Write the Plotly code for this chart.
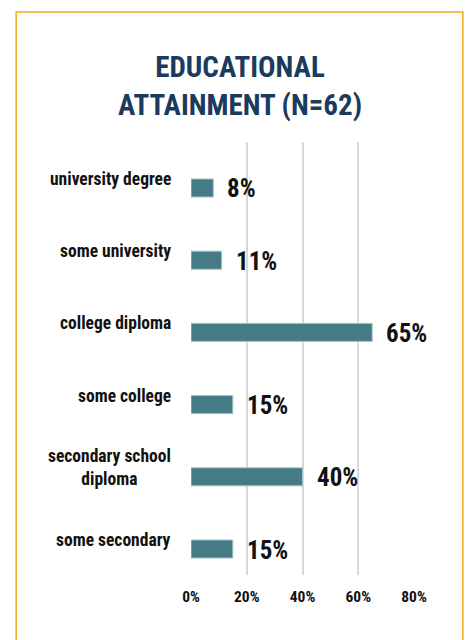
import plotly.graph_objects as go

categories = ["university degree", "some university", "college diploma",
              "some college", "secondary school<br>diploma", "some secondary"]
values = [8, 11, 65, 15, 40, 15]
value_labels = ["8%", "11%", "65%", "15%", "40%", "15%"]
tick_vals = [0, 20, 40, 60, 80]
tick_text = ["0%", "20%", "40%", "60%", "80%"]
title_text = "EDUCATIONAL<br>ATTAINMENT (N=62)"

FONT = "Roboto Condensed, Liberation Sans Narrow, Arial Narrow, sans-serif"
BAR = "#457B85"
TXT = "#111111"

fig = go.Figure()
fig.add_trace(go.Bar(
    x=values, y=categories, orientation="h",
    marker=dict(color=BAR, line=dict(color="#A9C3C7", width=1)),
    hoverinfo="skip",
))

for c, v, t in zip(categories, values, value_labels):
    fig.add_annotation(x=v, y=c, xref="x", yref="y", text=f"<b>{t}</b>",
                       showarrow=False, xanchor="left", yanchor="middle",
                       xshift=12, yshift=-1,
                       font=dict(family=FONT, size=25, color=TXT))
    n = c.count("<br>") + 1
    fig.add_annotation(x=0, y=c, xref="x", yref="y", text=f"<b>{c}</b>",
                       showarrow=False, xanchor="right", yanchor="middle",
                       align="center", xshift=-18,
                       yshift=9 if n == 1 else 9,
                       font=dict(family=FONT, size=17.5, color=TXT))

# orange frame
fig.add_shape(type="rect", xref="paper", yref="paper",
              x0=-0.784, x1=1.219, y0=-0.2, y1=1.300,
              line=dict(color="#F6A623", width=1.5), layer="below")

fig.update_layout(
    width=468, height=640,
    margin=dict(l=190.5, r=53.7, t=142, b=65, pad=0),
    paper_bgcolor="white", plot_bgcolor="white",
    showlegend=False,
    bargap=0.75,
    title=dict(text=f"<b>{title_text}</b>", x=240/468, xref="container",
               xanchor="center", y=1-77/640, yref="container", yanchor="top",
               font=dict(family=FONT, size=29, color="#1B3A5E")),
    xaxis=dict(range=[0, 80], tickvals=tick_vals,
               ticktext=[f"<b>{s}</b>" for s in tick_text],
               showgrid=True, gridcolor="#D9D9D9", gridwidth=1.5,
               zeroline=False, showline=False, ticks="",
               tickfont=dict(family=FONT, size=15.5, color=TXT),
               ticklabelstandoff=10, fixedrange=True),
    yaxis=dict(categoryorder="array", categoryarray=categories[::-1],
               range=[-0.36, 5.637],
               showticklabels=False, showgrid=False, zeroline=False,
               ticks="", fixedrange=True),
)

fig.write_html("out.html")
